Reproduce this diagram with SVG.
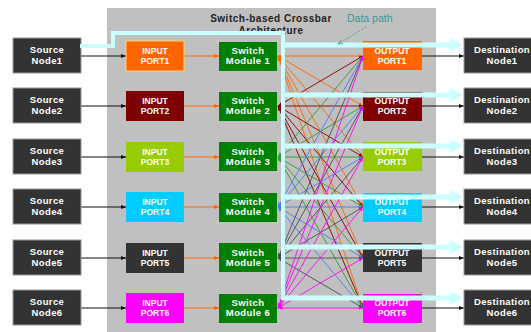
<svg xmlns="http://www.w3.org/2000/svg" width="531" height="332" viewBox="0 0 531 332">
<style>
.node{fill:#333333;stroke:#9a9a9a;stroke-width:1}
.sw{fill:#008000}
.t{font-family:"Liberation Sans",Arial,sans-serif;font-weight:bold;font-size:9.5px;letter-spacing:0.4px;fill:#ffffff;text-anchor:middle}
.pt{font-family:"Liberation Sans",Arial,sans-serif;font-weight:bold;font-size:8.5px;fill:#ffffff;text-anchor:middle}
.title{font-family:"Liberation Sans",Arial,sans-serif;font-weight:bold;font-size:10px;letter-spacing:0.5px;fill:#222;text-anchor:middle}
.blk{stroke:#111;stroke-width:1;fill:none;marker-end:url(#aK)}
.org{stroke:#ff6600;stroke-width:1;fill:none;marker-end:url(#a1)}
.x{stroke-width:0.9;fill:none}
.c1{stroke:#ff6600;marker-start:url(#a1);marker-end:url(#a1)}
.c2{stroke:#800000;marker-start:url(#a2);marker-end:url(#a2)}
.c3{stroke:#339933;marker-start:url(#a3);marker-end:url(#a3)}
.c4{stroke:#4d79ff;marker-start:url(#a4);marker-end:url(#a4)}
.c5{stroke:#4d4d4d;marker-start:url(#a5);marker-end:url(#a5)}
.c6{stroke:#ff00ff;marker-start:url(#a6);marker-end:url(#a6)}
.cy{fill:#ccffff;stroke:none}
</style>
<defs>
<marker id="aK" viewBox="0 0 10 10" refX="10" refY="5" markerWidth="5" markerHeight="5" orient="auto-start-reverse"><path d="M0,1 L10,5 L0,9 z" fill="#111"/></marker>
<marker id="a1" viewBox="0 0 10 10" refX="10" refY="5" markerWidth="5" markerHeight="5" orient="auto-start-reverse"><path d="M0,1 L10,5 L0,9 z" fill="#ff6600"/></marker>
<marker id="a2" viewBox="0 0 10 10" refX="10" refY="5" markerWidth="5" markerHeight="5" orient="auto-start-reverse"><path d="M0,1 L10,5 L0,9 z" fill="#800000"/></marker>
<marker id="a3" viewBox="0 0 10 10" refX="10" refY="5" markerWidth="5" markerHeight="5" orient="auto-start-reverse"><path d="M0,1 L10,5 L0,9 z" fill="#339933"/></marker>
<marker id="a4" viewBox="0 0 10 10" refX="10" refY="5" markerWidth="5" markerHeight="5" orient="auto-start-reverse"><path d="M0,1 L10,5 L0,9 z" fill="#4d79ff"/></marker>
<marker id="a5" viewBox="0 0 10 10" refX="10" refY="5" markerWidth="5" markerHeight="5" orient="auto-start-reverse"><path d="M0,1 L10,5 L0,9 z" fill="#4d4d4d"/></marker>
<marker id="a6" viewBox="0 0 10 10" refX="10" refY="5" markerWidth="5" markerHeight="5" orient="auto-start-reverse"><path d="M0,1 L10,5 L0,9 z" fill="#ff00ff"/></marker>
<marker id="aT" viewBox="0 0 10 10" refX="10" refY="5" markerWidth="6" markerHeight="6" orient="auto"><path d="M0,1 L10,5 L0,9" fill="none" stroke="#339999" stroke-width="1.5"/></marker>
</defs>
<rect x="0" y="0" width="531" height="332" fill="#ffffff"/>
<rect id="crossbar-bg" x="107" y="8" width="329" height="324" fill="#c0c0c0"/>
<text class="title" x="271" y="22">Switch-based Crossbar</text>
<text class="title" x="271" y="34">Architecture</text>

<g id="connectors">
<line class="blk" x1="81" y1="56" x2="126" y2="56"/>
<line class="blk" x1="81" y1="106" x2="126" y2="106"/>
<line class="blk" x1="81" y1="157" x2="126" y2="157"/>
<line class="blk" x1="81" y1="207" x2="126" y2="207"/>
<line class="blk" x1="81" y1="258" x2="126" y2="258"/>
<line class="blk" x1="81" y1="308" x2="126" y2="308"/>
<line class="org" x1="184" y1="56" x2="219" y2="56"/>
<line class="org" x1="184" y1="106" x2="219" y2="106"/>
<line class="org" x1="184" y1="157" x2="219" y2="157"/>
<line class="org" x1="184" y1="207" x2="219" y2="207"/>
<line class="org" x1="184" y1="258" x2="219" y2="258"/>
<line class="org" x1="184" y1="308" x2="219" y2="308"/>
<line class="blk" x1="422" y1="56" x2="464" y2="56"/>
<line class="blk" x1="422" y1="106" x2="464" y2="106"/>
<line class="blk" x1="422" y1="157" x2="464" y2="157"/>
<line class="blk" x1="422" y1="207" x2="464" y2="207"/>
<line class="blk" x1="422" y1="258" x2="464" y2="258"/>
<line class="blk" x1="422" y1="308" x2="464" y2="308"/>
<g id="crossbar">
<path class="x c1" d="M278,56 L363,56"/><path class="x c1" d="M278,56 L363,106"/><path class="x c1" d="M278,56 L363,157"/><path class="x c1" d="M278,56 L363,207"/><path class="x c1" d="M278,56 L363,258"/><path class="x c1" d="M278,56 L363,308"/>
<path class="x c2" d="M278,106 L363,56"/><path class="x c2" d="M278,106 L363,106"/><path class="x c2" d="M278,106 L363,157"/><path class="x c2" d="M278,106 L363,207"/><path class="x c2" d="M278,106 L363,258"/><path class="x c2" d="M278,106 L363,308"/>
<path class="x c3" d="M278,157 L363,56"/><path class="x c3" d="M278,157 L363,106"/><path class="x c3" d="M278,157 L363,157"/><path class="x c3" d="M278,157 L363,207"/><path class="x c3" d="M278,157 L363,258"/><path class="x c3" d="M278,157 L363,308"/>
<path class="x c4" d="M278,207 L363,56"/><path class="x c4" d="M278,207 L363,106"/><path class="x c4" d="M278,207 L363,157"/><path class="x c4" d="M278,207 L363,207"/><path class="x c4" d="M278,207 L363,258"/><path class="x c4" d="M278,207 L363,308"/>
<path class="x c5" d="M278,258 L363,56"/><path class="x c5" d="M278,258 L363,106"/><path class="x c5" d="M278,258 L363,157"/><path class="x c5" d="M278,258 L363,207"/><path class="x c5" d="M278,258 L363,258"/><path class="x c5" d="M278,258 L363,308"/>
<path class="x c6" d="M278,308 L363,56"/><path class="x c6" d="M278,308 L363,106"/><path class="x c6" d="M278,308 L363,157"/><path class="x c6" d="M278,308 L363,207"/><path class="x c6" d="M278,308 L363,258"/><path class="x c6" d="M278,308 L363,308"/>
</g>
</g>

<g id="source1"><rect class="node" x="13" y="38" width="68" height="35"/><text class="t" x="47" y="53">Source</text><text class="t" x="47" y="64">Node1</text></g>
<g id="source2"><rect class="node" x="13" y="88" width="68" height="35"/><text class="t" x="47" y="103">Source</text><text class="t" x="47" y="114">Node2</text></g>
<g id="source3"><rect class="node" x="13" y="139" width="68" height="35"/><text class="t" x="47" y="154">Source</text><text class="t" x="47" y="165">Node3</text></g>
<g id="source4"><rect class="node" x="13" y="189" width="68" height="35"/><text class="t" x="47" y="204">Source</text><text class="t" x="47" y="215">Node4</text></g>
<g id="source5"><rect class="node" x="13" y="240" width="68" height="35"/><text class="t" x="47" y="255">Source</text><text class="t" x="47" y="266">Node5</text></g>
<g id="source6"><rect class="node" x="13" y="290" width="68" height="35"/><text class="t" x="47" y="305">Source</text><text class="t" x="47" y="316">Node6</text></g>

<g id="input1"><rect x="126" y="41" width="58" height="30" fill="#ff6600" stroke="#ffcc66" stroke-width="1"/><text class="pt" x="155" y="54">INPUT</text><text class="pt" x="155" y="64">PORT1</text></g>
<g id="input2"><rect x="126" y="91" width="58" height="30" fill="#7f0000"/><text class="pt" x="155" y="104">INPUT</text><text class="pt" x="155" y="114">PORT2</text></g>
<g id="input3"><rect x="126" y="142" width="58" height="30" fill="#99cc00"/><text class="pt" x="155" y="155">INPUT</text><text class="pt" x="155" y="165">PORT3</text></g>
<g id="input4"><rect x="126" y="192" width="58" height="30" fill="#00ccff"/><text class="pt" x="155" y="205">INPUT</text><text class="pt" x="155" y="215">PORT4</text></g>
<g id="input5"><rect x="126" y="243" width="58" height="30" fill="#333333"/><text class="pt" x="155" y="256">INPUT</text><text class="pt" x="155" y="266">PORT5</text></g>
<g id="input6"><rect x="126" y="293" width="58" height="30" fill="#ff00ff"/><text class="pt" x="155" y="306">INPUT</text><text class="pt" x="155" y="316">PORT6</text></g>

<g id="switch1"><rect class="sw" x="219" y="42" width="58" height="29"/><text class="t" x="248" y="54">Switch</text><text class="t" x="248" y="64">Module 1</text></g>
<g id="switch2"><rect class="sw" x="219" y="92" width="58" height="29"/><text class="t" x="248" y="104">Switch</text><text class="t" x="248" y="114">Module 2</text></g>
<g id="switch3"><rect class="sw" x="219" y="142" width="58" height="29"/><text class="t" x="248" y="155">Switch</text><text class="t" x="248" y="165">Module 3</text></g>
<g id="switch4"><rect class="sw" x="219" y="193" width="58" height="29"/><text class="t" x="248" y="205">Switch</text><text class="t" x="248" y="215">Module 4</text></g>
<g id="switch5"><rect class="sw" x="219" y="243" width="58" height="29"/><text class="t" x="248" y="256">Switch</text><text class="t" x="248" y="266">Module 5</text></g>
<g id="switch6"><rect class="sw" x="219" y="294" width="58" height="29"/><text class="t" x="248" y="306">Switch</text><text class="t" x="248" y="316">Module 6</text></g>

<g id="output1"><rect x="363" y="41" width="59" height="29" fill="#ff6600"/><text class="pt" x="392" y="54">OUTPUT</text><text class="pt" x="392" y="64">PORT1</text></g>
<g id="output2"><rect x="363" y="92" width="59" height="29" fill="#7f0000"/><text class="pt" x="392" y="104">OUTPUT</text><text class="pt" x="392" y="114">PORT2</text></g>
<g id="output3"><rect x="363" y="142" width="59" height="29" fill="#99cc00"/><text class="pt" x="392" y="155">OUTPUT</text><text class="pt" x="392" y="165">PORT3</text></g>
<g id="output4"><rect x="363" y="193" width="59" height="29" fill="#00ccff"/><text class="pt" x="392" y="205">OUTPUT</text><text class="pt" x="392" y="215">PORT4</text></g>
<g id="output5"><rect x="363" y="243" width="59" height="29" fill="#333333"/><text class="pt" x="392" y="256">OUTPUT</text><text class="pt" x="392" y="266">PORT5</text></g>
<g id="output6"><rect x="363" y="294" width="59" height="29" fill="#ff00ff"/><text class="pt" x="392" y="306">OUTPUT</text><text class="pt" x="392" y="316">PORT6</text></g>

<g id="dest1"><rect class="node" x="464" y="38" width="76" height="35"/><text class="t" x="502" y="53">Destination</text><text class="t" x="502" y="64">Node1</text></g>
<g id="dest2"><rect class="node" x="464" y="88" width="76" height="35"/><text class="t" x="502" y="103">Destination</text><text class="t" x="502" y="114">Node2</text></g>
<g id="dest3"><rect class="node" x="464" y="139" width="76" height="35"/><text class="t" x="502" y="154">Destination</text><text class="t" x="502" y="165">Node3</text></g>
<g id="dest4"><rect class="node" x="464" y="189" width="76" height="35"/><text class="t" x="502" y="204">Destination</text><text class="t" x="502" y="215">Node4</text></g>
<g id="dest5"><rect class="node" x="464" y="240" width="76" height="35"/><text class="t" x="502" y="255">Destination</text><text class="t" x="502" y="266">Node5</text></g>
<g id="dest6"><rect class="node" x="464" y="290" width="76" height="35"/><text class="t" x="502" y="305">Destination</text><text class="t" x="502" y="316">Node6</text></g>

<g id="datapath">
<path class="cy" d="M80,44 L111,44 L111,31 L285,31 L285,300 L281,300 L281,35 L115,35 L115,48 L80,48 Z"/>
<path class="cy" d="M283,42.5 L450,42.5 L450,38 L463,45 L450,52 L450,47.5 L283,47.5 Z"/>
<path class="cy" d="M283,92.5 L450,92.5 L450,88 L463,95 L450,102 L450,97.5 L283,97.5 Z"/>
<path class="cy" d="M283,143.5 L450,143.5 L450,139 L463,146 L450,153 L450,148.5 L283,148.5 Z"/>
<path class="cy" d="M283,194.5 L450,194.5 L450,190 L463,197 L450,204 L450,199.5 L283,199.5 Z"/>
<path class="cy" d="M283,244.5 L450,244.5 L450,240 L463,247 L450,254 L450,249.5 L283,249.5 Z"/>
<path class="cy" d="M283,295.5 L450,295.5 L450,291 L463,298 L450,305 L450,300.5 L283,300.5 Z"/>
<text x="347" y="22" font-family="'Liberation Sans',Arial,sans-serif" font-size="10.5" fill="#339999">Data path</text>
<line x1="366" y1="27" x2="338" y2="44" stroke="#339999" stroke-width="0.8" stroke-dasharray="2,1.5" marker-end="url(#aT)"/>
</g>
</svg>
